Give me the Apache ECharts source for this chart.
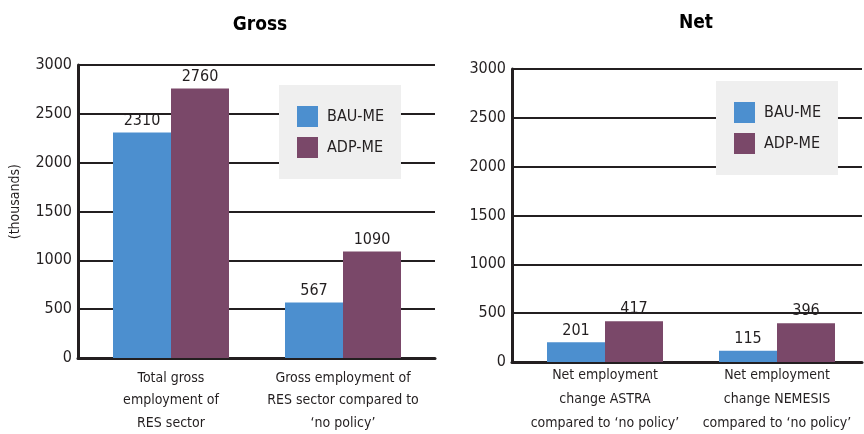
<!DOCTYPE html>
<html>
<head>
<meta charset="utf-8">
<script src="https://cdn.jsdelivr.net/npm/echarts@6/dist/echarts.min.js"></script>
<style>
  html, body { margin: 0; padding: 0; background: #ffffff; }
  #chart { width: 864px; height: 434px; }
</style>
</head>
<body>
<div id="chart"></div>
<script>
// Employment in the RES sector, thousands of jobs
const seriesNames = ['BAU-ME', 'ADP-ME'];

const grossCategories = [
  'Total gross\nemployment of\nRES sector',
  'Gross employment of\nRES sector compared to\n\u2018no policy\u2019'
];
const grossBau = [2310, 567];
const grossAdp = [2760, 1090];

const netCategories = [
  'Net employment\nchange ASTRA\ncompared to \u2018no policy\u2019',
  'Net employment\nchange NEMESIS\ncompared to \u2018no policy\u2019'
];
const netBau = [201, 115];
const netAdp = [417, 396];

const yTicks = [0, 500, 1000, 1500, 2000, 2500, 3000];

const FONT = '"Liberation Sans Narrow", "DejaVu Sans Condensed", sans-serif';
const INK = '#231f20';
const BLUE = '#4c8fcf';
const PURPLE = '#7a4869';

const chart = echarts.init(document.getElementById('chart'), null, { renderer: 'canvas' });

function frameAxes(gridIndex) {
  return {
    x: {
      type: 'category', gridIndex, data: ['a', 'b'],
      axisLine: { show: true, lineStyle: { color: INK, width: 3 } },
      axisTick: { show: false }, axisLabel: { show: false }, splitLine: { show: false }
    },
    y: {
      type: 'value', gridIndex, min: yTicks[0], max: yTicks[yTicks.length - 1], interval: 500,
      axisLine: { show: true, lineStyle: { color: INK, width: 3 } },
      axisTick: { show: false },
      axisLabel: { color: INK, fontFamily: FONT, fontSize: 16, margin: 6,
                   formatter: v => String(v) },
      splitLine: { show: true, lineStyle: { color: INK, width: 2 } }
    }
  };
}

function barAxes(gridIndex, cats, lineHeight, margin) {
  return {
    x: {
      type: 'category', gridIndex, data: cats,
      axisLine: { show: false }, axisTick: { show: false },
      axisLabel: { color: INK, fontFamily: FONT, fontSize: 14, lineHeight, margin, interval: 0 }
    },
    y: {
      type: 'value', gridIndex, min: 0, max: 3000, show: false, splitLine: { show: false }
    }
  };
}

const f0 = frameAxes(0), b1 = barAxes(1, grossCategories, 22.5, 9);
const f2 = frameAxes(2), b3 = barAxes(3, netCategories, 24, 1);

function bar(name, data, color, axisIndex) {
  return {
    name, type: 'bar', data, xAxisIndex: axisIndex, yAxisIndex: axisIndex,
    barWidth: 58, barGap: '0%',
    itemStyle: { color },
    label: { show: true, position: 'top', distance: 4, color: INK, fontFamily: FONT, fontSize: 16 }
  };
}

const legendBase = {
  orient: 'vertical', selectedMode: false,
  data: seriesNames,
  itemWidth: 21, itemHeight: 21, itemGap: 10,
  icon: 'rect',
  textStyle: { color: INK, fontFamily: FONT, fontSize: 16, padding: [0, 0, 0, 4] },
  backgroundColor: '#efefef',
  padding: [21, 17, 21, 18]
};

// fixed plot rectangles (no automatic shrinking to fit labels)
function gridBox(left, top, width, height) {
  return { left, top, width, height, containLabel: false, outerBoundsMode: 'none' };
}

chart.setOption({
  animation: false,
  textStyle: { fontFamily: FONT },
  title: [
    { text: 'Gross', left: 255, top: 11, textAlign: 'center',
      textStyle: { fontFamily: FONT, fontWeight: 'bold', fontSize: 19, color: '#000' } },
    { text: 'Net', left: 691, top: 9, textAlign: 'center',
      textStyle: { fontFamily: FONT, fontWeight: 'bold', fontSize: 19, color: '#000' } }
  ],
  graphic: [
    { type: 'text', left: 8, top: 164, rotation: Math.PI / 2,
      style: { text: '(thousands)', fill: INK, font: '14px ' + FONT } }
  ],
  legend: [
    Object.assign({ left: 279, top: 85 }, legendBase),
    Object.assign({ left: 716, top: 81 }, legendBase)
  ],
  grid: [
    gridBox(78, 65, 357, 293),
    gridBox(85, 65, 344, 293),
    gridBox(512, 69, 350, 293),
    gridBox(519, 69, 344, 293)
  ],
  xAxis: [f0.x, b1.x, f2.x, b3.x],
  yAxis: [f0.y, b1.y, f2.y, b3.y],
  series: [
    bar(seriesNames[0], grossBau, BLUE, 1),
    bar(seriesNames[1], grossAdp, PURPLE, 1),
    bar(seriesNames[0], netBau, BLUE, 3),
    bar(seriesNames[1], netAdp, PURPLE, 3)
  ]
});
</script>
</body>
</html>
